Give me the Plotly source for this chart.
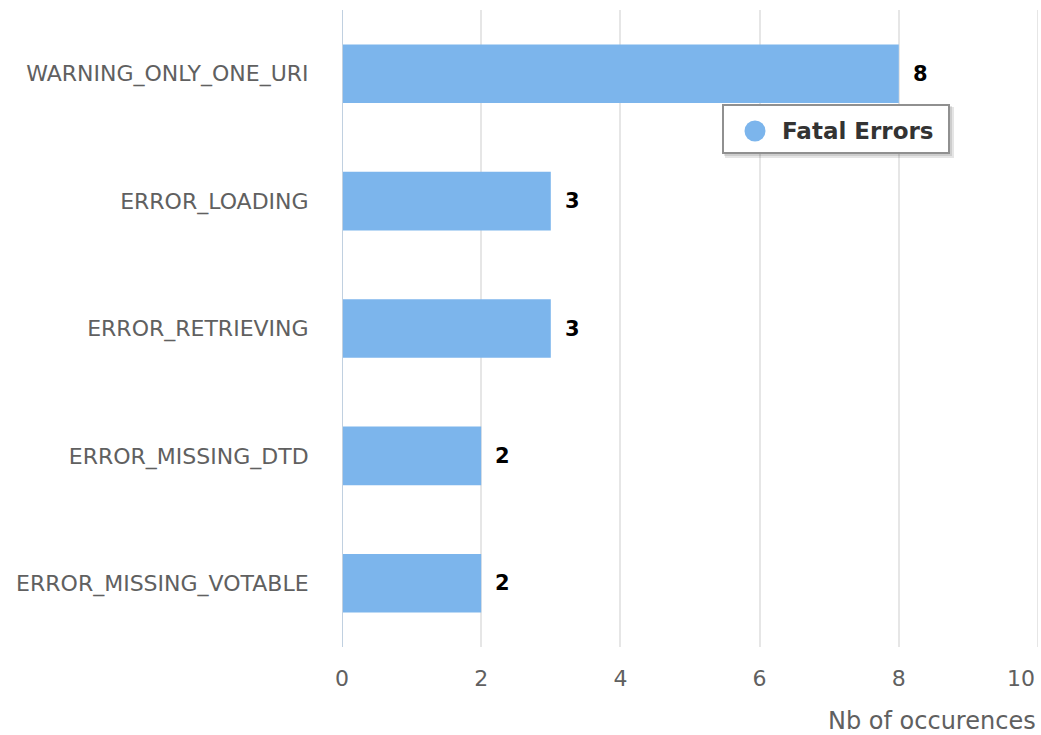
import plotly.graph_objects as go

categories = ["WARNING_ONLY_ONE_URI", "ERROR_LOADING", "ERROR_RETRIEVING",
              "ERROR_MISSING_DTD", "ERROR_MISSING_VOTABLE"]
values = [8, 3, 3, 2, 2]
series_name = "Fatal Errors"
x_ticks = [0, 2, 4, 6, 8, 10]
x_title = "Nb of occurences"

BAR = "#7cb5ec"
FONT = "DejaVu Sans"

# plot area geometry in pixels
L, R, T, B = 342, 3, 10, 88
W, H = 1041, 735
PW, PH = W - L - R, H - T - B


def px_x(p):
    return (p - L) / PW


def px_y(p):
    return (H - B - p) / PH


fig = go.Figure()
fig.add_trace(go.Bar(
    y=categories, x=values, orientation="h",
    marker=dict(color=BAR, line=dict(width=0)),
    width=0.46,
    showlegend=False,
    name=series_name,
    hoverinfo="x+y",
))

annotations = []
for c, v in zip(categories, values):
    annotations.append(dict(
        x=v, y=c, xref="x", yref="y", text=f"<b>{v}</b>", showarrow=False,
        xanchor="left", yanchor="middle", xshift=12,
        font=dict(family=FONT, size=21, color="#000000"),
    ))
annotations.append(dict(
    text=x_title, xref="paper", yref="paper", x=px_x(1038), y=0,
    xanchor="right", yanchor="top", yshift=-58, showarrow=False,
    font=dict(family=FONT, size=24, color="#606060"),
))
# legend label
annotations.append(dict(
    text=f"<b>{series_name}</b>", xref="paper", yref="paper",
    x=px_x(780), y=px_y(131), xanchor="left", yanchor="middle",
    showarrow=False, font=dict(family=FONT, size=23, color="#333333"),
))
# last tick label, kept inside the chart like the reference
annotations.append(dict(
    text=str(x_ticks[-1]), xref="x", yref="paper", x=x_ticks[-1], y=0,
    xanchor="right", yanchor="middle", yshift=-31, xshift=-1,
    showarrow=False, font=dict(family=FONT, size=22, color="#606060"),
))

ticktext = [str(t) for t in x_ticks]
ticktext[-1] = ""

fig.update_layout(
    width=W, height=H,
    margin=dict(l=L, r=R, t=T, b=B, autoexpand=False),
    plot_bgcolor="white", paper_bgcolor="white",
    font=dict(family=FONT, size=22, color="#606060"),
    showlegend=False,
    xaxis=dict(
        range=[0, 10], tickvals=x_ticks, ticktext=ticktext,
        showgrid=True, gridcolor="#e6e6e6", gridwidth=2,
        zeroline=False, showline=False,
        ticks="outside", ticklen=12, tickcolor="rgba(0,0,0,0)",
        tickfont=dict(family=FONT, size=22, color="#606060"),
        automargin=False,
        fixedrange=True,
    ),
    yaxis=dict(
        categoryorder="array", categoryarray=categories[::-1],
        showgrid=False, zeroline=False, showline=False,
        ticks="outside", ticklen=28, tickcolor="rgba(0,0,0,0)",
        tickfont=dict(family=FONT, size=22, color="#606060"),
        range=[-0.5, 4.5], fixedrange=True, automargin=False,
    ),
    shapes=[
        # grid line at the right edge (plotly drops the edge grid line)
        dict(type="line", xref="x", yref="paper", x0=10, x1=10, y0=0, y1=1,
             line=dict(color="#e6e6e6", width=2), layer="below"),
        dict(type="line", xref="x", yref="paper", x0=0, x1=0, y0=0, y1=1,
             line=dict(color="#c0d0e0", width=2), layer="above"),
        # legend drop shadow
        dict(type="rect", xref="paper", yref="paper",
             x0=px_x(725), x1=px_x(954), y0=px_y(107), y1=px_y(158),
             line=dict(width=0), fillcolor="rgba(0,0,0,0.10)", layer="above"),
        dict(type="rect", xref="paper", yref="paper",
             x0=px_x(724), x1=px_x(952), y0=px_y(106), y1=px_y(156),
             line=dict(width=0), fillcolor="rgba(0,0,0,0.10)", layer="above"),
        # legend box
        dict(type="rect", xref="paper", yref="paper",
             x0=px_x(723), x1=px_x(949), y0=px_y(105), y1=px_y(153),
             line=dict(color="#909090", width=2), fillcolor="white", layer="above"),
        # legend symbol
        dict(type="circle", xref="paper", yref="paper",
             x0=px_x(744.5), x1=px_x(765.5), y0=px_y(120.5), y1=px_y(141.5),
             line=dict(width=0), fillcolor=BAR, layer="above"),
    ],
    annotations=annotations,
)

fig.write_html("out.html", config={"displayModeBar": False},
               post_script="document.body.style.margin='0';document.body.style.overflow='hidden';")
